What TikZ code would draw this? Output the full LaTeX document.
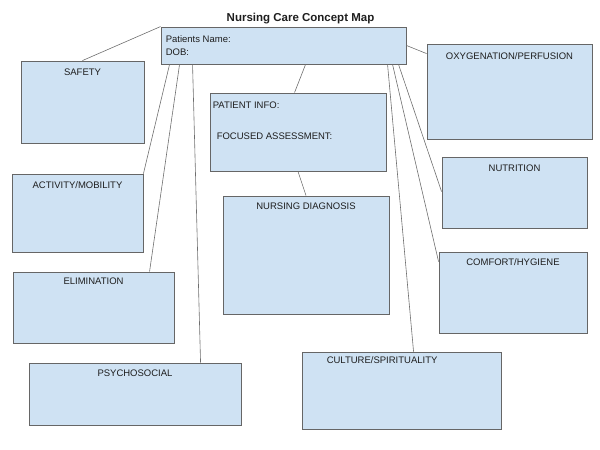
\documentclass[tikz,border=0pt]{standalone}
\usepackage{fontspec}
\setmainfont{Liberation Sans}
\usepackage{xcolor}
\definecolor{cFill}{HTML}{CFE2F3}
\definecolor{cEdge}{HTML}{666666}
\definecolor{cLink}{HTML}{6E6E6E}
\definecolor{cText}{HTML}{1E1E1E}
\usepackage{tikz}
\usetikzlibrary{positioning,calc}
\tikzset{
  node-concept/.style={draw=cEdge,fill=cFill,line width=0.9pt,inner sep=0pt},
  node-label/.style={font=\fontsize{9.5}{13}\selectfont,text=cText,inner sep=0pt},
  node-note/.style={node-label,anchor=north west,align=left},
  link/.style={draw=cLink,line width=0.6pt},
}

\begin{document}
\begin{tikzpicture}[x=1pt,y=-1pt]
  \useasboundingbox (0,0) rectangle (600,450);
  \node[font=\bfseries\fontsize{11.5}{14}\selectfont,text=cText,inner sep=0pt,anchor=north]
    (map-title) at (300.5,13) {Nursing Care Concept Map};

  % concept boxes
  \node[node-concept,minimum width=245pt,minimum height=37pt]  (patient)   at (283.5,45.5) {};
  \node[node-concept,minimum width=123pt,minimum height=82pt]  (safety)    at (82.5,102)   {};
  \node[node-concept,minimum width=165pt,minimum height=95pt]  (oxygen)    at (509.5,91.5) {};
  \node[node-concept,minimum width=176pt,minimum height=78pt]  (info)      at (298,132)    {};
  \node[node-concept,minimum width=166pt,minimum height=118pt] (diagnosis) at (306,255)    {};
  \node[node-concept,minimum width=131pt,minimum height=78pt]  (activity)  at (77.5,213)   {};
  \node[node-concept,minimum width=161pt,minimum height=71pt]  (elim)      at (93.5,307.5) {};
  \node[node-concept,minimum width=212pt,minimum height=62pt]  (psycho)    at (135,394)    {};
  \node[node-concept,minimum width=145pt,minimum height=71pt]  (nutrition) at (514.5,192.5) {};
  \node[node-concept,minimum width=148pt,minimum height=81pt]  (comfort)   at (513,292.5)  {};
  \node[node-concept,minimum width=199pt,minimum height=77pt]  (culture)   at (401.5,390.5) {};

  % texts
  \node[node-note] (patient-txt) at ($(patient.north west)+(5,9)$) {Patients Name:\\DOB:};
  \node[node-note] (info-txt)   at ($(info.north west)+(3,9)$)  {PATIENT INFO:};
  \node[node-note] (focus-txt)  at ($(info.north west)+(7,40)$) {FOCUSED ASSESSMENT:};
  \node[node-label,below=8pt of safety.north]    (safety-txt)    {SAFETY};
  \node[node-label,below=9pt of oxygen.north]    (oxygen-txt)    {OXYGENATION/PERFUSION};
  \node[node-label,below=7pt of diagnosis.north] (diagnosis-txt) {NURSING DIAGNOSIS};
  \node[node-label,below=8pt of activity.north]  (activity-txt)  {ACTIVITY/MOBILITY};
  \node[node-label,below=6pt of elim.north]      (elim-txt)      {ELIMINATION};
  \node[node-label,below=7pt of psycho.north]    (psycho-txt)    {PSYCHOSOCIAL};
  \node[node-label,below=8pt of nutrition.north] (nutrition-txt) {NUTRITION};
  \node[node-label,below=7pt of comfort.north]   (comfort-txt)   {COMFORT/HYGIENE};
  \node[node-note] (culture-txt) at ($(culture.north west)+(25,5)$) {CULTURE/SPIRITUALITY};

  % connectors
  \draw[link] (patient.north west) -- (safety.north);
  \draw[link] (patient.east) -- ([yshift=-10pt]oxygen.north west);
  \draw[link] ($(patient.south west)+(145,0)$) -- ($(info.north west)+(85,0)$);
  \draw[link] (info.south) -- (diagnosis.north);
  \draw[link] ($(patient.south west)+(9,0)$)   -- (activity.north east);
  \draw[link] ($(patient.south west)+(19,0)$)  -- ($(elim.north west)+(137,0)$);
  \draw[link] ($(patient.south west)+(32,0)$)  -- ($(psycho.north west)+(172,0)$);
  \draw[link] ($(patient.south west)+(227,0)$) -- ($(culture.north west)+(112,0)$);
  \draw[link] ($(patient.south west)+(232,0)$) -- ($(comfort.north west)+(0,10)$);
  \draw[link] ($(patient.south west)+(238,0)$) -- ($(nutrition.north west)+(0,35)$);
\end{tikzpicture}
\end{document}
